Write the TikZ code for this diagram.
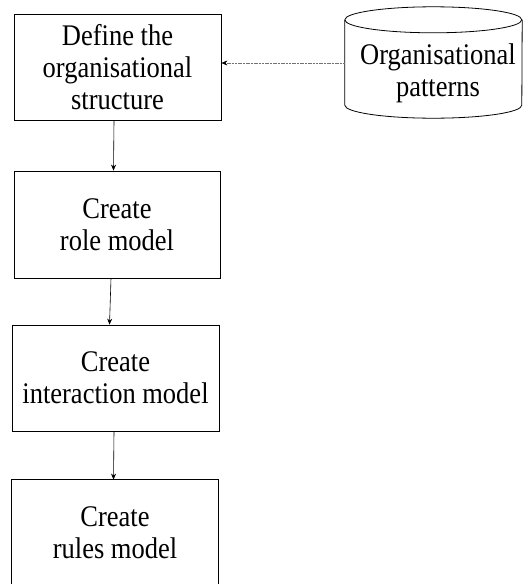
\documentclass[tikz,border=0pt]{standalone}
\usepackage{graphicx}
\usepackage{fontspec}
\setmainfont{Liberation Serif}
\usetikzlibrary{arrows.meta}

% one line of label text, set a little taller than wide
\newcommand\tallline[1]{\scalebox{1}[1.13]{#1}}

\begin{document}
\begin{tikzpicture}[x=1pt, y=-1pt,
  stepbox/.style={draw=black, line width=0.8pt, minimum width=207pt,
    minimum height=106pt, inner sep=0pt, align=center, text depth=0pt,
    font=\fontsize{26.5}{32}\selectfont},
  openbox/.style={stepbox, draw=none},
  label/.style={inner sep=0pt, align=center, text depth=0pt,
    font=\fontsize{26.5}{32}\selectfont},
  flow/.style={line width=0.6pt, -{Stealth[length=6pt, width=5pt]}},
  feed/.style={draw=black!55, line width=0.5pt,
    dash pattern=on 2pt off 0.7pt,
    -{Stealth[length=6pt, width=5pt, black]}},
  store/.style={line width=0.8pt}
]
\useasboundingbox (0,0) rectangle (523,584);

% process steps
\node[stepbox] (b1) at (117.5,67) {\tallline{Define the}\\\tallline{organisational}\\\tallline{structure}};
\node[stepbox, minimum width=206pt, minimum height=107pt] (b2) at (117,224.5) {\tallline{Create}\\\tallline{role model}};
\node[stepbox] (b3) at (115.5,378) {\tallline{Create}\\\tallline{interaction model}};
\node[openbox, minimum width=206pt] (b4) at (115,533) {\tallline{Create}\\\tallline{rules model}};
% last box runs past the lower edge: only its top and sides show
\draw[line width=0.8pt] (b4.south west) -- (b4.north west) -- (b4.north east) -- (b4.south east);

% pattern store (cylinder)
\node[inner sep=0pt, minimum width=177pt, minimum height=85pt] (db) at (433.5,62.5) {};
\draw[store] (db.north west) arc[start angle=180, end angle=0, x radius=88.5pt, y radius=13pt]
  arc[start angle=0, end angle=-180, x radius=88.5pt, y radius=13pt];
\draw[store] (db.north west) -- (db.south west)
  arc[start angle=180, end angle=360, x radius=88.5pt, y radius=13pt]
  -- (db.north east);
\node[label] (pat) at (438,70.5) {\tallline{Organisational}\\\tallline{patterns}};

% connectors
\draw[feed] ([yshift=-0.5pt]db.west) -- ([yshift=-0.5pt]db.west -| b1.east);
\draw[flow] ([xshift=-3.5pt]b1.south) -- ([xshift=-3.5pt]b2.north);
\draw[flow] ([xshift=-6pt]b2.south) -- ([xshift=-6pt]b3.north);
\draw[flow] ([xshift=-1.5pt]b3.south) -- ([xshift=-1.5pt]b4.north);
\end{tikzpicture}
\end{document}
